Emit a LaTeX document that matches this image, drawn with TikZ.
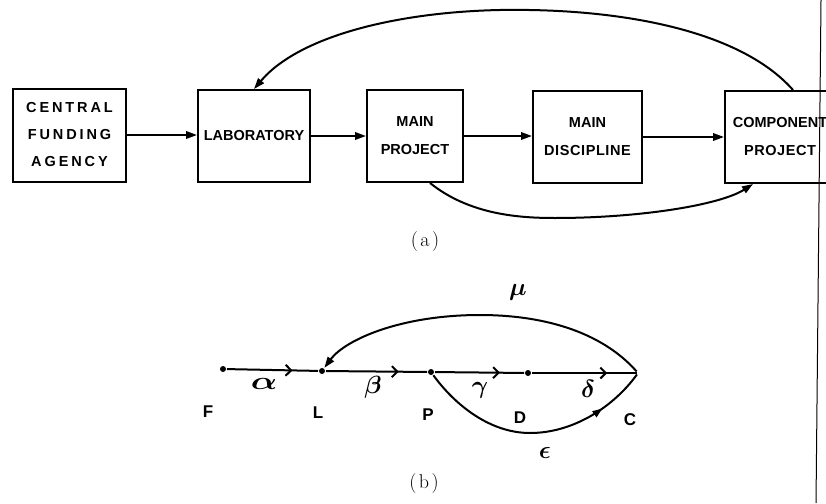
\documentclass[tikz,border=0pt]{standalone}
\usepackage{amsmath}
\usepackage{fontspec}
\newfontfamily\boxfont{Liberation Sans}
\newfontfamily\widefont[LetterSpace=20]{Liberation Sans}
\newfontfamily\semifont[LetterSpace=4]{Liberation Sans}
\usetikzlibrary{arrows.meta,decorations.markings}
\begin{document}
\begin{tikzpicture}[x=1pt,y=-1pt,line width=2pt,
  blk/.style={draw,rectangle,align=center,inner sep=0pt,line width=2pt,
    font={\boxfont\bfseries\fontsize{14.5}{27}\selectfont}},
  arr/.style={line width=2pt,-{Triangle[length=11pt,width=7.5pt]}},
  dot/.style={circle,fill,inner sep=0pt,minimum size=6pt},
  lbl/.style={font={\boxfont\bfseries\fontsize{17}{18}\selectfont}},
  grk/.style={font={\fontsize{24}{26}\selectfont}},
  captxt/.style={font={\fontsize{20}{22}\selectfont}},
  mid/.style={line width=2pt,decoration={markings,
    mark=at position #1 with {\arrow{Straight Barb[length=5.5pt,width=11pt,line width=2pt]}}},
    postaction={decorate}}]
\useasboundingbox (0,0) rectangle (826,503);
\path[clip] (0,0) rectangle (826,503);
\fill[white] (0,0) rectangle (826,503);

% ---------- (a) ----------
\node[blk,minimum width=113pt,minimum height=93pt] (cfa) at (69.5,135)
  {\widefont\bfseries CENTRAL\\\widefont\bfseries FUNDING\\\widefont\bfseries AGENCY};
\node[blk,minimum width=112pt,minimum height=92pt] (lab) at (254,136) {LABORATORY};
\node[blk,minimum width=96pt,minimum height=92pt,
  font={\boxfont\bfseries\fontsize{14.5}{28}\selectfont}] (mp) at (415,136) {MAIN\\PROJECT};
\node[blk,minimum width=109pt,minimum height=92pt,
  font={\boxfont\bfseries\fontsize{14.5}{28}\selectfont}] (md) at (587.5,137)
  {MAIN\\\semifont\bfseries DISCIPLINE};
\node[blk,minimum width=110pt,minimum height=92pt,
  font={\boxfont\bfseries\fontsize{14.5}{28}\selectfont}] (cp) at (780,137)
  {COMPONENT\\\semifont\bfseries PROJECT};

\draw[arr] (cfa.east) -- (cfa.east -| lab.west);
\draw[arr] (lab.east) -- (lab.east -| mp.west);
\draw[arr] (mp.east) -- (mp.east -| md.west);
\draw[arr] (md.east) -- (md.east -| cp.west);

\draw[arr] ([xshift=13pt]cp.north) .. controls (740,30) and (620,8) .. (500,10)
  .. controls (400,12) and (300,35) .. (lab.north);
\draw[arr] ([xshift=15pt]mp.south) .. controls (470,215) and (520,218) .. (555,218)
  .. controls (640,218) and (720,205) .. ([xshift=-27pt]cp.south);

\node[captxt] (capa) at (425,242) {(\kern2.5pt a\kern2.5pt)};

% ---------- (b) ----------
\node[dot] (F) at (223,369) {};
\node[dot] (L) at (322,371) {};
\node[dot] (P) at (431,372) {};
\node[dot] (D) at (528,373) {};
\node[inner sep=0pt,minimum size=1pt] (C) at (638,373) {};

\draw[mid=0.72] (F) -- (L);
\draw[mid=0.72] (L) -- (P);
\draw[mid=0.73] (P) -- (D);
\draw[mid=0.72] (D) -- (C);

\draw[line width=2pt,-{Triangle[length=11pt,width=7.5pt]}] (C)
  .. controls (600,330) and (540,315) .. (480,315)
  .. controls (400,315) and (345,340) .. (L);
\draw[line width=2pt,decoration={markings,
    mark=at position 0.8 with {\arrow{Triangle[length=10pt,width=7pt]}}},
    postaction={decorate}] (P)
  .. controls (455,405) and (490,433) .. (530,433)
  .. controls (575,433) and (615,405) .. (C);

\node[lbl] (lF) at (208,412) {F};
\node[lbl] (lL) at (318,413) {L};
\node[lbl] (lP) at (428,415) {P};
\node[lbl] (lD) at (520,418) {D};
\node[lbl] (lC) at (630,420) {C};

\node[grk] (ga) at (264,384) {\scalebox{1.4}[1]{$\boldsymbol{\alpha}$}};
\node[grk] (gb) at (373,387) {$\boldsymbol{\beta}$};
\node[grk] (gg) at (480,390) {$\boldsymbol{\gamma}$};
\node[grk] (gd) at (588,389) {$\boldsymbol{\delta}$};
\node[grk] (ge) at (545,453) {$\boldsymbol{\epsilon}$};
\node[grk,font={\fontsize{28}{30}\selectfont}] (gm) at (518,292) {$\boldsymbol{\mu}$};

\node[captxt] (capb) at (424,484) {(\kern2.5pt b\kern2.5pt)};

% scan border line at right edge
\coordinate (bt) at (821,0);
\coordinate (bb) at (816,503);
\draw[line width=1pt] (bt) -- (bb);
\end{tikzpicture}
\end{document}
